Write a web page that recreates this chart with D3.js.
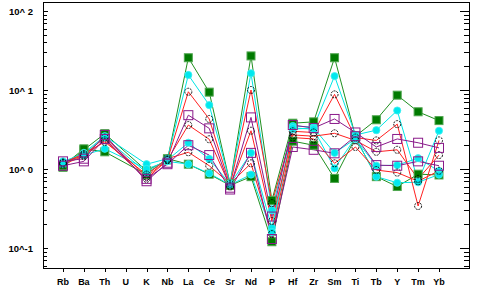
<!DOCTYPE html>
<html lang="en">
<head>
<meta charset="UTF-8">
<title>Spider diagram</title>
<style>
  body { margin: 0; background: #fff; }
  svg text { font-family: "Liberation Sans", Arial, sans-serif; font-weight: bold; fill: #000; }
</style>
</head>
<body>
<svg width="480" height="293"></svg>
<script src="https://d3js.org/d3.v7.min.js"></script>
<script>

let elements = ["Rb","Ba","Th","U","K","Nb","La","Ce","Sr","Nd","P","Hf","Zr","Sm","Ti","Tb","Y","Tm","Yb"];

let yTickValues = [0.1, 1, 10, 100];
let yTickLabels = ["10^-1", "10^ 0", "10^ 1", "10^ 2"];

// sample values (U not analysed -> null)
let green1  = [1.05,1.75,2.8,null,0.95,1.3,25.6,9.4,0.65,27,0.4,3.8,3.95,25.6,2.6,4.2,8.6,5.3,4.1];
let green2  = [1.1,1.8,1.65,null,0.85,1.35,1.15,0.86,0.62,0.8,0.12,2.25,2.0,0.76,2.5,0.8,0.6,0.86,0.84];
let cyan1   = [1.2,1.6,2.6,null,1.15,1.35,15.5,6.45,0.66,16.3,0.3,3.5,3.4,15,2.7,3.1,5.5,0.7,3.05];
let cyan2   = [1.25,1.55,2.5,null,0.9,1.3,2.15,1.34,0.64,1.6,0.18,3.2,3.3,1.6,2.4,1.1,1.12,1.37,0.94];
let cyan3   = [1.15,1.5,1.8,null,1.0,1.25,1.15,0.88,0.63,0.85,0.16,3.3,3.2,1.02,2.5,0.8,0.67,0.68,0.85];
let circle1 = [1.2,1.5,2.5,null,0.8,1.3,9.5,4.3,0.62,10,0.37,3.0,2.9,8.8,2.5,2.3,3.7,0.34,2.3];
let circle2 = [1.15,1.45,2.3,null,0.75,1.3,3.6,2.38,0.6,3.05,0.22,2.7,2.6,2.83,2.3,1.65,1.75,0.75,1.5];
let circle3 = [1.2,1.55,2.2,null,0.85,1.35,1.63,1.1,0.65,1.18,0.15,2.5,2.4,1.18,1.9,0.97,0.9,0.7,0.95];
let purple1 = [1.25,1.35,2.7,null,0.7,1.2,4.8,3.27,0.58,4.5,0.25,3.6,3.3,4.3,2.9,1.9,2.4,2.15,1.85];
let purple2 = [1.1,1.25,2.4,null,0.75,1.15,2.0,1.5,0.55,1.6,0.13,1.9,1.75,1.58,2.6,1.12,1.1,1.25,1.1];

let series = [
  {vals: green1,  line: "#1f8f1f", marker: "gsq"},
  {vals: green2,  line: "#1f8f1f", marker: "gsq"},
  {vals: cyan1,   line: "#00e5e5", marker: "cci"},
  {vals: cyan2,   line: "#00e5e5", marker: "cci"},
  {vals: cyan3,   line: "#00e5e5", marker: "cci"},
  {vals: circle1, line: "#ff2020", marker: "oci"},
  {vals: circle2, line: "#ff2020", marker: "oci"},
  {vals: circle3, line: "#ff2020", marker: "oci"},
  {vals: purple1, line: "#8a1a8a", marker: "psq"},
  {vals: purple2, line: "#8a1a8a", marker: "psq"}
];

let svg = d3.select("svg");
let pLeft = 43, pRight = 469, pTop = 2, pBottom = 268;

let x = d3.scalePoint()
    .domain(elements)
    .range([63, 439]);
let y = d3.scaleLog()
    .domain([0.1, 100])
    .range([248, 11]);

// frame
svg.append("rect")
    .attr("x", pLeft + 0.5).attr("y", pTop + 0.5)
    .attr("width", pRight - pLeft).attr("height", pBottom - pTop)
    .attr("fill", "none").attr("stroke", "#000").attr("stroke-width", 1);

// y ticks (major + minor), inward on both sides
let minor = [];
[0.01, 0.1, 1, 10].forEach(d => {
  for (let k = 2; k <= 9; k++) minor.push(d * k);
});
minor = minor.filter(v => y(v) < pBottom && y(v) > pTop);

let yt = svg.append("g");
yt.selectAll(".minL").data(minor).enter().append("line")
    .attr("x1", pLeft).attr("x2", pLeft + 4)
    .attr("y1", d => Math.round(y(d)) + 0.5).attr("y2", d => Math.round(y(d)) + 0.5)
    .attr("stroke", "#000");
yt.selectAll(".minR").data(minor).enter().append("line")
    .attr("x1", pRight - 5).attr("x2", pRight)
    .attr("y1", d => Math.round(y(d)) + 0.5).attr("y2", d => Math.round(y(d)) + 0.5)
    .attr("stroke", "#000");
yt.selectAll(".majL").data(yTickValues).enter().append("line")
    .attr("x1", pLeft).attr("x2", pLeft + 5)
    .attr("y1", d => Math.round(y(d)) + 0.5).attr("y2", d => Math.round(y(d)) + 0.5)
    .attr("stroke", "#000");
yt.selectAll(".majR").data(yTickValues).enter().append("line")
    .attr("x1", pRight - 9).attr("x2", pRight)
    .attr("y1", d => Math.round(y(d)) + 0.5).attr("y2", d => Math.round(y(d)) + 0.5)
    .attr("stroke", "#000");
yt.selectAll("text").data(yTickValues).enter().append("text")
    .attr("x", 33).attr("y", d => y(d) + 3.5)
    .attr("text-anchor", "end")
    .style("font-size", "9.5px")
    .text((d, i) => yTickLabels[i]);

// x ticks outward + labels
let xt = svg.append("g");
xt.selectAll("line").data(elements).enter().append("line")
    .attr("x1", d => Math.round(x(d)) + 0.5).attr("x2", d => Math.round(x(d)) + 0.5)
    .attr("y1", pBottom).attr("y2", pBottom + 4)
    .attr("stroke", "#000");
xt.selectAll("text").data(elements).enter().append("text")
    .attr("x", d => x(d)).attr("y", 285)
    .attr("text-anchor", "middle")
    .style("font-size", "9px")
    .text(d => d);

// lines (skip missing values so Th joins K)
let line = d3.line()
    .x(d => x(d.el))
    .y(d => y(d.v));

function pts(s) {
  return elements.map((el, i) => ({el: el, v: s.vals[i]})).filter(d => d.v != null);
}

let plot = svg.append("g");
plot.selectAll("path.ser").data(series).enter().append("path")
    .attr("class", "ser")
    .attr("d", s => line(pts(s)))
    .attr("fill", "none")
    .attr("stroke", s => s.line)
    .attr("stroke-width", 1);

// markers
function drawMarkers(kind) {
  let sel = series.filter(s => s.marker === kind);
  let g = plot.append("g");
  sel.forEach(s => {
    let p = g.selectAll(null).data(pts(s)).enter();
    if (kind === "gsq") {
      p.append("rect")
        .attr("x", d => x(d.el) - 4).attr("y", d => y(d.v) - 4)
        .attr("width", 8).attr("height", 8)
        .attr("fill", "#007a00").attr("stroke", "#4fa64f").attr("stroke-width", 1);
    } else if (kind === "cci") {
      p.append("circle")
        .attr("cx", d => x(d.el)).attr("cy", d => y(d.v)).attr("r", 3.6)
        .attr("fill", "#00e8ee").attr("stroke", "#40f0f0").attr("stroke-width", 0.8);
    } else if (kind === "oci") {
      p.append("circle")
        .attr("cx", d => x(d.el)).attr("cy", d => y(d.v)).attr("r", 3.5)
        .attr("fill", "none").attr("stroke", "#000").attr("stroke-width", 0.9)
        .attr("stroke-dasharray", "2,1");
    } else {
      p.append("rect")
        .attr("x", d => x(d.el) - 4.5).attr("y", d => y(d.v) - 4.5)
        .attr("width", 9).attr("height", 9)
        .attr("fill", "none").attr("stroke", "#8a1a8a").attr("stroke-width", 1);
    }
  });
}
drawMarkers("gsq");
drawMarkers("cci");
drawMarkers("oci");
drawMarkers("psq");

</script>
</body>
</html>
